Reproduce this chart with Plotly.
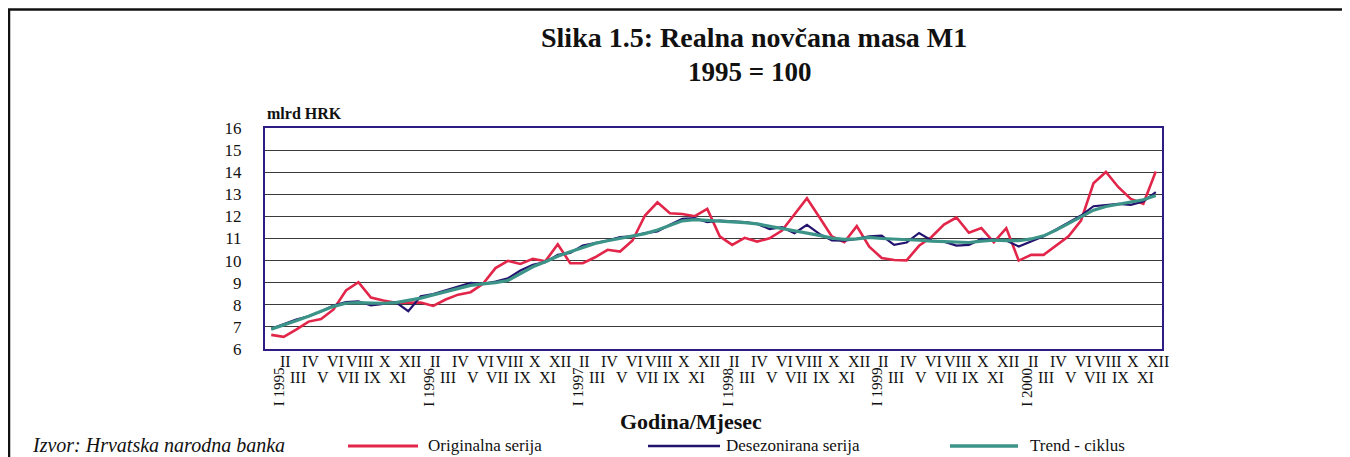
import plotly.graph_objects as go

# ---------------- data ----------------
months = ["I", "II", "III", "IV", "V", "VI", "VII", "VIII", "IX", "X", "XI", "XII"]
years = [1995, 1996, 1997, 1998, 1999, 2000]

originalna = [
    6.64, 6.55, 6.88, 7.24, 7.36, 7.79, 8.65, 9.02, 8.33, 8.19, 8.09, 8.08,
    8.10, 7.95, 8.24, 8.46, 8.57, 8.95, 9.66, 9.99, 9.85, 10.08, 9.97, 10.74,
    9.88, 9.88, 10.15, 10.49, 10.41, 10.91, 12.04, 12.64, 12.14, 12.11, 12.01, 12.34,
    11.10, 10.71, 11.03, 10.86, 11.01, 11.36, 12.11, 12.82, 11.96, 11.09, 10.83, 11.56,
    10.63, 10.12, 10.03, 10.01, 10.67, 11.07, 11.63, 11.95, 11.26, 11.47, 10.83, 11.47,
    10.00, 10.26, 10.26, 10.68, 11.10, 11.81, 13.50, 14.01, 13.32, 12.79, 12.57, 14.03,
]
desezonirana = [
    6.91, 7.11, 7.33, 7.48, 7.70, 7.97, 8.12, 8.16, 7.97, 8.04, 8.12, 7.71,
    8.39, 8.49, 8.65, 8.80, 8.99, 8.95, 9.05, 9.20, 9.55, 9.81, 9.93, 10.26,
    10.35, 10.68, 10.79, 10.91, 11.06, 11.10, 11.24, 11.32, 11.62, 11.89, 11.92, 11.74,
    11.81, 11.77, 11.74, 11.66, 11.43, 11.51, 11.24, 11.62, 11.21, 10.91, 10.90, 10.98,
    11.10, 11.13, 10.71, 10.82, 11.25, 10.91, 10.86, 10.68, 10.71, 10.98, 10.95, 10.91,
    10.64, 10.86, 11.10, 11.41, 11.71, 12.04, 12.46, 12.52, 12.57, 12.52, 12.67, 13.10,
]
trend = [
    6.90, 7.08, 7.28, 7.48, 7.70, 7.93, 8.07, 8.10, 8.08, 8.07, 8.10, 8.20,
    8.30, 8.45, 8.60, 8.75, 8.88, 8.95, 9.00, 9.10, 9.40, 9.72, 9.95, 10.20,
    10.40, 10.60, 10.78, 10.90, 11.00, 11.10, 11.22, 11.38, 11.60, 11.80, 11.85, 11.82,
    11.80, 11.76, 11.72, 11.66, 11.56, 11.46, 11.36, 11.26, 11.14, 11.02, 10.96, 10.98,
    11.05, 11.00, 10.98, 10.95, 10.92, 10.88, 10.85, 10.82, 10.82, 10.88, 10.92, 10.90,
    10.90, 10.98, 11.12, 11.38, 11.68, 11.98, 12.28, 12.45, 12.55, 12.62, 12.75, 12.95,
]
series_names = ["Originalna serija", "Desezonirana serija", "Trend - ciklus"]
series_colors = ["#E2264A", "#23136E", "#3C9488"]
series_widths = [2.6, 2.2, 3.2]
y_ticks = list(range(6, 17))

title_line1 = "Slika 1.5: Realna novčana masa M1"
title_line2 = "1995 = 100"
y_unit = "mlrd HRK"
x_title = "Godina/Mjesec"
source = "Izvor: Hrvatska narodna banka"

# ---------------- figure ----------------
OFF = 8  # page offset of the plot div (body margin)
W, H = 1350 - OFF, 457 - OFF
# plot area in page pixels
PL, PR, PT, PB = 265, 1162, 128, 349
L, R, T, B = PL - OFF, PR - OFF, PT - OFF, PB - OFF
FONT = "Liberation Serif"


def px(xp):  # page x -> paper
    return (xp - PL) / (PR - PL)


def py(yp):  # page y -> paper
    return (PB - yp) / (PB - PT)


n = len(originalna)
x_idx = list(range(n))

fig = go.Figure()
for name, vals, col, w in zip(series_names, [originalna, desezonirana, trend],
                              series_colors, series_widths):
    fig.add_trace(go.Scatter(x=x_idx, y=vals, mode="lines", name=name,
                             line=dict(color=col, width=w), showlegend=False))

fig.update_layout(
    width=W, height=H,
    margin=dict(l=L, r=W - R, t=T, b=H - B),
    paper_bgcolor="white", plot_bgcolor="white",
    font=dict(family=FONT, color="#111"),
)
fig.update_xaxes(range=[-0.5, n - 0.5], showticklabels=False, showgrid=False,
                 zeroline=False, showline=True, mirror=True,
                 linecolor="#2E1C84", linewidth=2, ticks="")
fig.update_yaxes(range=[6, 16], tickvals=y_ticks, showgrid=True,
                 gridcolor="#3a3a3a", gridwidth=1, zeroline=False,
                 showline=True, mirror=True, linecolor="#2E1C84", linewidth=2,
                 ticks="", tickfont=dict(family=FONT, size=17, color="#111"),
                 ticklabelstandoff=18)

ann = []
# month / year labels
for i in x_idx:
    m = i % 12
    yr = years[i // 12]
    if m == 0:
        ann.append(dict(x=i, y=py(387), xref="x", yref="paper", text=f"I {yr}",
                        textangle=-90, showarrow=False, xshift=8,
                        font=dict(family=FONT, size=15, color="#111"),
                        xanchor="center", yanchor="middle"))
    elif m % 2 == 1:
        ann.append(dict(x=i, y=py(361), xref="x", yref="paper", text=months[m],
                        showarrow=False, xshift=2,
                        font=dict(family=FONT, size=16, color="#111"),
                        xanchor="center", yanchor="middle"))
    else:
        ann.append(dict(x=i, y=py(377.5), xref="x", yref="paper", text=months[m],
                        showarrow=False, xshift=2,
                        font=dict(family=FONT, size=16, color="#111"),
                        xanchor="center", yanchor="middle"))

# titles
ann.append(dict(x=px(754), y=py(38), xref="paper", yref="paper",
                text=f"<b>{title_line1}</b>", showarrow=False,
                font=dict(family=FONT, size=28, color="#111"),
                xanchor="center", yanchor="middle"))
ann.append(dict(x=px(749), y=py(72), xref="paper", yref="paper",
                text=f"<b>{title_line2}</b>", showarrow=False,
                font=dict(family=FONT, size=27, color="#111"),
                xanchor="center", yanchor="middle"))
ann.append(dict(x=px(265), y=py(113), xref="paper", yref="paper",
                text=f"<b>{y_unit}</b>", showarrow=False,
                font=dict(family=FONT, size=16, color="#111"),
                xanchor="left", yanchor="middle"))
ann.append(dict(x=px(691), y=py(421), xref="paper", yref="paper",
                text=f"<b>{x_title}</b>", showarrow=False,
                font=dict(family=FONT, size=22, color="#111"),
                xanchor="center", yanchor="middle"))
ann.append(dict(x=px(30), y=py(445), xref="paper", yref="paper",
                text=f"<i>{source}</i>", showarrow=False,
                font=dict(family=FONT, size=20, color="#111"),
                xanchor="left", yanchor="middle"))

shapes = []
# custom legend
leg_lines = [(348, 418), (648, 720), (950, 1018)]
leg_text_x = [426, 724, 1028]
for (x0, x1), tx, name, col, w in zip(leg_lines, leg_text_x, series_names,
                                      series_colors, series_widths):
    shapes.append(dict(type="line", xref="paper", yref="paper",
                       x0=px(x0), x1=px(x1), y0=py(446), y1=py(446),
                       line=dict(color=col, width=w + 0.4)))
    ann.append(dict(x=px(tx), y=py(445), xref="paper", yref="paper", text=name,
                    showarrow=False, font=dict(family=FONT, size=17, color="#111"),
                    xanchor="left", yanchor="middle"))

# outer frame
shapes.append(dict(type="line", xref="paper", yref="paper",
                   x0=px(8), x1=px(1352), y0=py(9.5), y1=py(9.5),
                   line=dict(color="#111", width=2.5)))
shapes.append(dict(type="line", xref="paper", yref="paper",
                   x0=px(9), x1=px(9), y0=py(9), y1=py(460),
                   line=dict(color="#111", width=2.5)))

fig.update_layout(annotations=ann, shapes=shapes)
fig.write_html("out.html")
